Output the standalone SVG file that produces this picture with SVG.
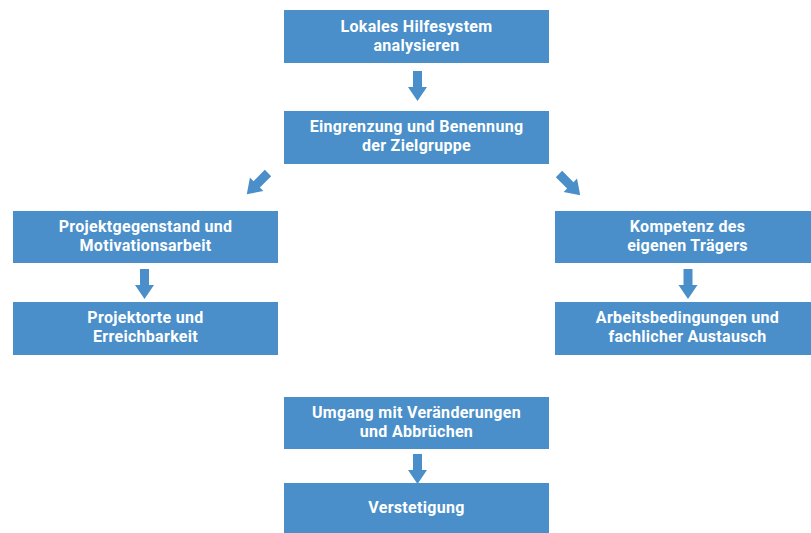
<svg xmlns="http://www.w3.org/2000/svg" width="811" height="533" viewBox="0 0 811 533">
<style>
.box{fill:#4a8fc9}
.t{fill:#ffffff;font-family:Roboto,"Open Sans",sans-serif;font-weight:700;font-size:16px;letter-spacing:0.3px;text-anchor:middle}
.arr{fill:#4a8fc9}
</style>
<defs>
<path id="arrow" d="M-4.5,0 H4.5 V16 H9.5 L0,30 L-9.5,16 H-4.5 Z"/>
</defs>
<rect width="811" height="533" fill="#ffffff"/>
<g id="n1"><rect class="box" x="284" y="10" width="265" height="53"/><text class="t" x="416.5" y="32">Lokales Hilfesystem<tspan x="416.5" dy="19">analysieren</tspan></text></g>
<g id="n2"><rect class="box" x="284" y="111" width="265" height="53"/><text class="t" x="416.5" y="132">Eingrenzung und Benennung<tspan x="416.5" dy="19">der Zielgruppe</tspan></text></g>
<g id="n3"><rect class="box" x="13" y="211" width="265" height="52"/><text class="t" x="145.5" y="232">Projektgegenstand und<tspan x="145.5" dy="19">Motivationsarbeit</tspan></text></g>
<g id="n4"><rect class="box" x="13" y="302" width="265" height="53"/><text class="t" x="145.5" y="323">Projektorte und<tspan x="145.5" dy="19">Erreichbarkeit</tspan></text></g>
<g id="n5"><rect class="box" x="555" y="211" width="265" height="52"/><text class="t" x="687.5" y="232">Kompetenz des<tspan x="687.5" dy="19">eigenen Trägers</tspan></text></g>
<g id="n6"><rect class="box" x="555" y="302" width="265" height="53"/><text class="t" x="687.5" y="323">Arbeitsbedingungen und<tspan x="687.5" dy="19">fachlicher Austausch</tspan></text></g>
<g id="n7"><rect class="box" x="284" y="397" width="265" height="52"/><text class="t" x="416.5" y="418">Umgang mit Veränderungen<tspan x="416.5" dy="19">und Abbrüchen</tspan></text></g>
<g id="n8"><rect class="box" x="284" y="483" width="265" height="50"/><text class="t" x="416.5" y="513">Verstetigung</text></g>
<g id="connectors" class="arr">
<use href="#arrow" transform="translate(417.5,71)"/>
<use href="#arrow" transform="translate(268,173) rotate(45)"/>
<use href="#arrow" transform="translate(559,174) rotate(-45)"/>
<use href="#arrow" transform="translate(144.5,269)"/>
<use href="#arrow" transform="translate(688,269)"/>
<use href="#arrow" transform="translate(417.5,454)"/>
</g>
</svg>
